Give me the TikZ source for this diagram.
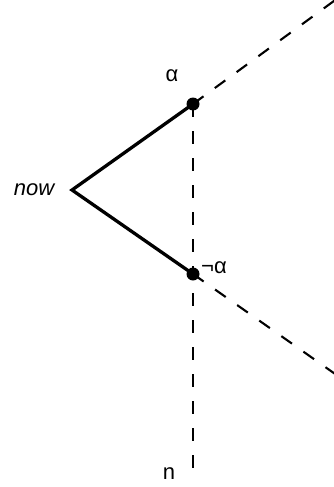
\documentclass[tikz,border=0pt]{standalone}
\usepackage{fontspec}
\setmainfont{Liberation Sans}
\begin{document}
\begin{tikzpicture}[x=1pt,y=-1pt,
  dot/.style={circle,fill=black,inner sep=0pt,minimum size=13pt},
  solidline/.style={line width=3.3pt},
  dashline/.style={line width=2.1pt,dash pattern=on 13pt off 14pt},
  lbl/.style={inner sep=0pt,font=\fontsize{22}{25}\selectfont}]
\useasboundingbox (0,0) rectangle (334,487);
\clip (0,0) rectangle (334,487);
\coordinate (v) at (72,190);
\node[dot] (a) at (193,104) {};
\node[dot] (b) at (193,274) {};
\coordinate (ua) at (338,-2);
\coordinate (lb) at (338,376);
\coordinate (bot) at (193,480);
\draw[dashline] (a.center) -- (ua);
\draw[dashline] (b.center) -- (lb);
\draw[dashline] (a.center) -- (bot);
\draw[solidline,line join=miter] (a.center) -- (v) -- (b.center);
\node[lbl] (la) at (172,76) {α};
\node[lbl] (lnow) at (34,190) {\itshape now};
\node[lbl] (lna) at (214,268) {¬α};
\node[lbl] (ln) at (169,474) {n};
\end{tikzpicture}
\end{document}
